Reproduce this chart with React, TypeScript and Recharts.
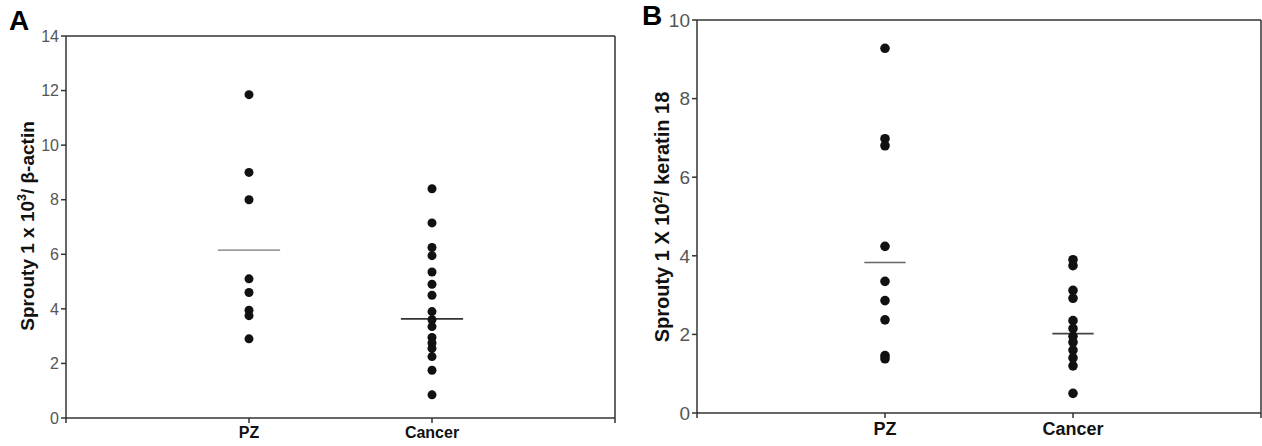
import React from "react";
import { ScatterChart, Scatter, XAxis, YAxis, ReferenceLine } from "recharts";

// categories shared by both panels (x = 1, 2 on a 0..3 axis)
const groups = ["PZ", "Cancer"];

// panel A: Sprouty 1 x 10^3 / beta-actin
const pzA = [11.85, 9.0, 8.0, 5.1, 4.6, 3.95, 3.75, 2.9];
const cancerA = [8.4, 7.15, 6.25, 5.95, 5.35, 4.9, 4.5, 3.9, 3.6, 3.35, 2.95, 2.75, 2.55, 2.25, 1.75, 0.85];
const meanA = [6.15, 3.63];
const yTicksA = [0, 2, 4, 6, 8, 10, 12, 14];

// panel B: Sprouty 1 x 10^2 / keratin 18
const pzB = [9.28, 6.98, 6.8, 4.24, 3.35, 2.86, 2.37, 1.46, 1.38];
const cancerB = [3.9, 3.75, 3.12, 2.92, 2.35, 2.15, 1.95, 1.8, 1.6, 1.4, 1.2, 0.5];
const meanB = [3.83, 2.02];
const yTicksB = [0, 2, 4, 6, 8, 10];

const xTicks = [0, 1, 2, 3];
const FONT = "Arial, 'Liberation Sans', sans-serif";
const AXIS = "#333";

const toPoints = (vals: number[], x: number) => vals.map((y) => ({ x, y }));
const catLabel = (v: number) => (v === 1 ? groups[0] : v === 2 ? groups[1] : "");

type PanelProps = {
  left: number;
  width: number;
  top: number;
  xAxisHeight: number;
  yAxisWidth: number;
  rightMargin: number;
  pz: number[];
  cancer: number[];
  means: number[];
  yTicks: number[];
  yFont: number;
  xFont: number;
  dotR: number;
  halfLine: number;
  lineColors: string[];
  lineWidths: number[];
};

const Panel: React.FC<PanelProps> = (p) => {
  const yMax = p.yTicks[p.yTicks.length - 1];
  const dot = (props: any) => <circle cx={props.cx} cy={props.cy} r={p.dotR} fill="#111" />;
  return (
    <div style={{ position: "absolute", left: p.left, top: 0 }}>
      <ScatterChart
        width={p.width}
        height={446}
        margin={{ top: p.top, right: p.rightMargin, bottom: 0, left: 0 }}
      >
        <XAxis
          dataKey="x"
          type="number"
          domain={[0, 3]}
          ticks={xTicks}
          tickFormatter={catLabel}
          height={p.xAxisHeight}
          stroke={AXIS}
          strokeWidth={1.5}
          tickSize={5}
          tickMargin={4}
          tick={{ fill: "#111", fontSize: p.xFont, fontWeight: "bold", fontFamily: FONT }}
        />
        <YAxis
          dataKey="y"
          type="number"
          domain={[0, yMax]}
          ticks={p.yTicks}
          interval={0}
          width={p.yAxisWidth}
          stroke={AXIS}
          strokeWidth={1.5}
          tickSize={5}
          tickMargin={2}
          tick={{ fill: "#555", fontSize: p.yFont, fontFamily: FONT }}
        />
        <ReferenceLine y={yMax} stroke={AXIS} strokeWidth={1.5} />
        <ReferenceLine x={3} stroke={AXIS} strokeWidth={1.5} />
        {p.means.map((m, i) => (
          <ReferenceLine
            key={`mean-${i}`}
            segment={[
              { x: i + 1 - p.halfLine, y: m },
              { x: i + 1 + p.halfLine, y: m },
            ]}
            stroke={p.lineColors[i]}
            strokeWidth={p.lineWidths[i]}
          />
        ))}
        <Scatter name={groups[0]} data={toPoints(p.pz, 1)} shape={dot} isAnimationActive={false} />
        <Scatter name={groups[1]} data={toPoints(p.cancer, 2)} shape={dot} isAnimationActive={false} />
      </ScatterChart>
    </div>
  );
};

const rotated = (cx: number, cy: number, size: number): React.CSSProperties => ({
  position: "absolute",
  left: cx,
  top: cy,
  transform: "translate(-50%, -50%) rotate(-90deg)",
  whiteSpace: "nowrap",
  fontFamily: FONT,
  fontSize: size,
  fontWeight: "bold",
  color: "#111",
});

const App: React.FC = () => {
  return (
    <div
      style={{
        position: "absolute",
        left: 0,
        top: 0,
        width: 1262,
        height: 446,
        background: "#fff",
        overflow: "hidden",
        fontFamily: FONT,
      }}
    >
      <Panel
        left={0}
        width={630}
        top={36}
        xAxisHeight={28}
        yAxisWidth={66}
        rightMargin={15}
        pz={pzA}
        cancer={cancerA}
        means={meanA}
        yTicks={yTicksA}
        yFont={16}
        xFont={16}
        dotR={4.5}
        halfLine={0.17}
        lineColors={["#777", "#333"]}
        lineWidths={[1.3, 1.8]}
      />
      <Panel
        left={630}
        width={632}
        top={20}
        xAxisHeight={33}
        yAxisWidth={67}
        rightMargin={1}
        pz={pzB}
        cancer={cancerB}
        means={meanB}
        yTicks={yTicksB}
        yFont={19}
        xFont={18}
        dotR={4.8}
        halfLine={0.11}
        lineColors={["#666", "#444"]}
        lineWidths={[1.6, 1.6]}
      />
      <div style={{ position: "absolute", left: 9, top: 5, fontSize: 28, fontWeight: "bold", fontFamily: FONT }}>A</div>
      <div style={{ position: "absolute", left: 642, top: 0, fontSize: 28, fontWeight: "bold", fontFamily: FONT }}>B</div>
      <div style={rotated(27, 226, 19)}>
        Sprouty 1 x 10<sup style={{ fontSize: "0.65em" }}>3</sup>/ β-actin
      </div>
      <div style={rotated(662, 217, 20)}>
        Sprouty 1 X 10<sup style={{ fontSize: "0.65em" }}>2</sup>/ keratin 18
      </div>
    </div>
  );
};

export default App;
